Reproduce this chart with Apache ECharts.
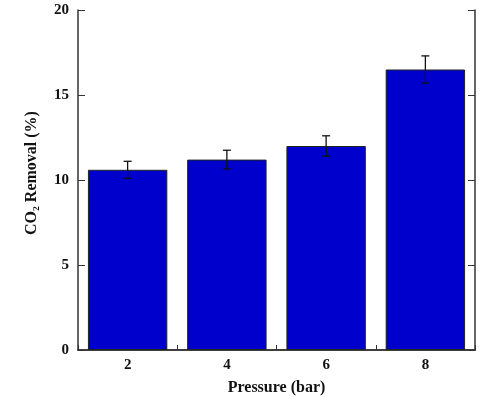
<!DOCTYPE html>
<html>
<head>
<meta charset="utf-8">
<script src="https://cdn.jsdelivr.net/npm/echarts@6/dist/echarts.min.js"></script>
<style>
  html, body { margin: 0; padding: 0; background: #fff; }
  #chart { width: 480px; height: 397px; }
</style>
</head>
<body>
<div id="chart"></div>
<script>
const pressures = ['2', '4', '6', '8']
const removal = [10.6, 11.2, 12.0, 16.5]
const removalErr = [0.5, 0.55, 0.6, 0.8]
const yTicks = { min: 0, max: 20, interval: 5 }

const chart = echarts.init(document.getElementById('chart'))

const font = 'Liberation Serif'
const axisLine = { show: true, lineStyle: { color: '#333', width: 1.5 } }

// error bar data: [index, low, high]
const errData = removal.map((v, i) => [i, v - removalErr[i], v + removalErr[i]])

const option = {
  animation: false,
  grid: { left: 78, right: 5, top: 10, bottom: 47, outerBoundsMode: 'none', containLabel: false },
  xAxis: [
    {
      type: 'category',
      data: pressures,
      axisLine: axisLine,
      axisTick: { show: true, inside: true, length: 5, lineStyle: { color: '#333' } },
      axisLabel: { color: '#111', fontFamily: font, fontWeight: 'bold', fontSize: 15, margin: 8 },
      name: 'Pressure (bar)',
      nameLocation: 'middle',
      nameGap: 30,
      nameTextStyle: { color: '#111', fontFamily: font, fontWeight: 'bold', fontSize: 16 }
    },
    {
      type: 'category',
      data: pressures,
      position: 'top',
      axisLine: axisLine,
      axisTick: { show: false },
      axisLabel: { show: false }
    }
  ],
  yAxis: [
    {
      type: 'value',
      min: yTicks.min,
      max: yTicks.max,
      interval: yTicks.interval,
      axisLine: axisLine,
      axisTick: { show: true, inside: true, length: 7, lineStyle: { color: '#333' } },
      splitLine: { show: false },
      axisLabel: { color: '#111', fontFamily: font, fontWeight: 'bold', fontSize: 15, margin: 9 },
      name: 'CO₂ Removal (%)',
      nameLocation: 'middle',
      nameRotate: 90,
      nameGap: 38,
      nameTextStyle: { color: '#111', fontFamily: font, fontWeight: 'bold', fontSize: 16, padding: [0, 0, 0, 14] }
    },
    {
      type: 'value',
      min: yTicks.min,
      max: yTicks.max,
      interval: yTicks.interval,
      position: 'right',
      axisLine: axisLine,
      axisTick: { show: true, inside: true, length: 7, lineStyle: { color: '#333' } },
      splitLine: { show: false },
      axisLabel: { show: false }
    }
  ],
  series: [
    {
      type: 'bar',
      data: removal,
      barWidth: '80%',
      itemStyle: { color: '#0000cc', borderColor: '#222', borderWidth: 1 }
    },
    {
      type: 'custom',
      data: errData,
      z: 10,
      renderItem: function (params, api) {
        const lo = api.coord([api.value(0), api.value(1)])
        const hi = api.coord([api.value(0), api.value(2)])
        const cap = 4
        const style = { stroke: '#111', lineWidth: 1.3 }
        return {
          type: 'group',
          children: [
            { type: 'line', shape: { x1: hi[0], y1: hi[1], x2: lo[0], y2: lo[1] }, style: style },
            { type: 'line', shape: { x1: hi[0] - cap, y1: hi[1], x2: hi[0] + cap, y2: hi[1] }, style: style },
            { type: 'line', shape: { x1: lo[0] - cap, y1: lo[1], x2: lo[0] + cap, y2: lo[1] }, style: style }
          ]
        }
      }
    }
  ]
}

chart.setOption(option)
</script>
</body>
</html>
